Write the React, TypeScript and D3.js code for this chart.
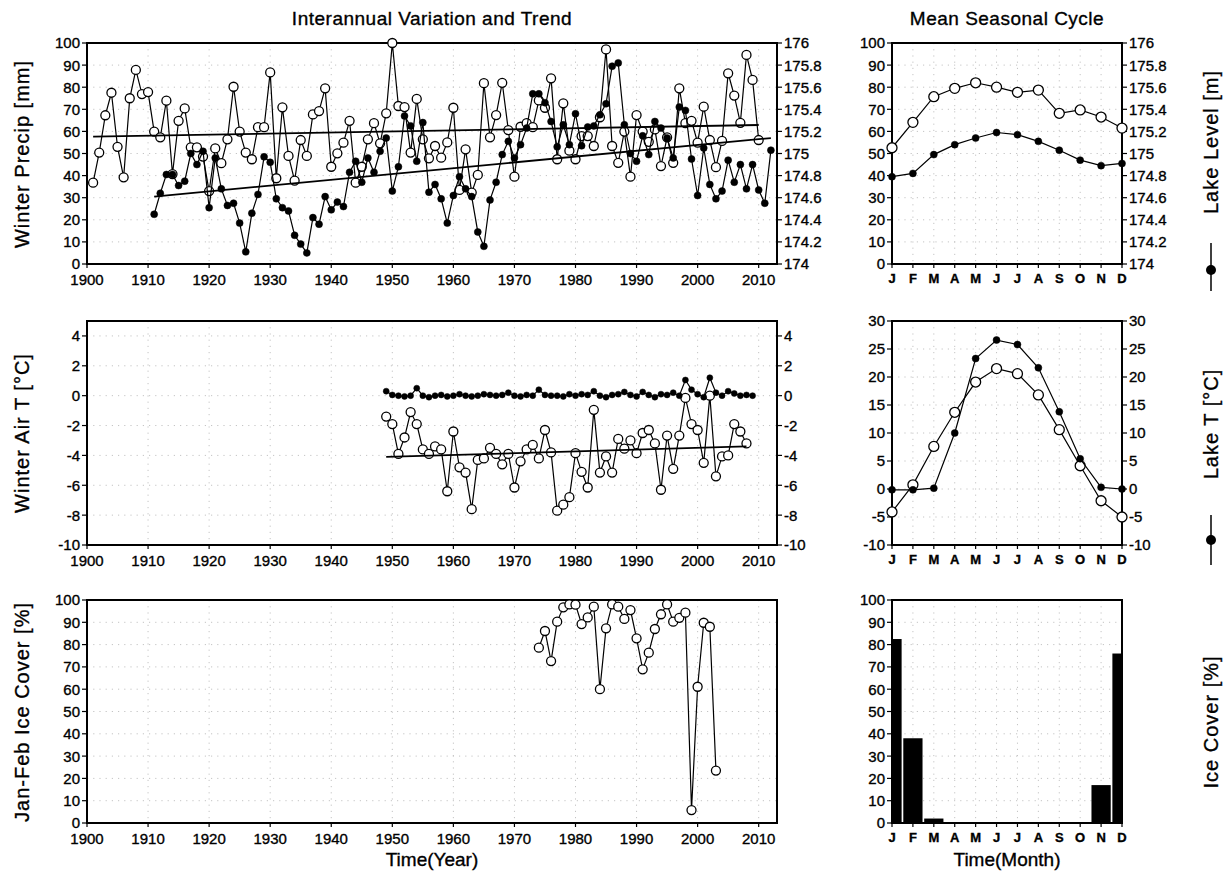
import React from 'react';
import * as d3 from 'd3';

// ---------- data ----------
const precipStart = 1901;
// winter precipitation [mm], 1901-2010
const winterPrecip = [
  36.8, 50.4, 67.3, 77.5, 53, 39.2, 75, 87.8, 76.9, 77.8,
  59.9, 57.3, 73.9, 40.7, 64.8, 70.4, 52.8, 52.8, 48.6, 33,
  52.3, 45.6, 56.4, 80.2, 59.9, 50.4, 47.4, 61.9, 61.9, 86.7,
  38.8, 70.9, 48.9, 37.7, 56.1, 48.9, 67.7, 69.2, 79.5, 44,
  50.1, 54.9, 64.8, 36.8, 44, 56.4, 63.7, 54.6, 68.2, 100,
  71.5, 71, 50.4, 74.7, 56.4, 47.8, 53.4, 48.1, 55, 70.7,
  33.5, 51.9, 32.3, 40.3, 81.8, 57.3, 67.4, 82, 60.6, 39.5,
  62.1, 63.7, 61.9, 74, 70.7, 84, 47.4, 72.7, 51.3, 47.4,
  57.9, 57.9, 53.4, 66.4, 97.1, 53.4, 45.8, 59.9, 39.5, 67.4,
  59.9, 55.3, 60.9, 44.3, 57.3, 45.8, 79.5, 63.7, 64.8, 54.9,
  71.2, 56.1, 43.8, 55.7, 86.3, 76.2, 63.9, 94.6, 83.3, 56.1,
];
const levelStart = 1911;
// winter lake level [m], 1911-2012
const lakeLevel = [
  174.45, 174.64, 174.81, 174.81, 174.71, 174.75, 175.0, 174.9, 175.02, 174.51,
  174.96, 174.68, 174.53, 174.55, 174.37, 174.11, 174.46, 174.63, 174.97, 174.92,
  174.59, 174.51, 174.48, 174.26, 174.18, 174.1, 174.42, 174.36, 174.61, 174.49,
  174.56, 174.52, 174.83, 174.93, 174.74, 174.96, 174.83, 175.02, 175.14, 174.66,
  174.88, 175.34, 175.25, 174.93, 175.28, 174.65, 174.72, 174.59, 174.37, 174.62,
  174.79, 174.68, 174.61, 174.29, 174.16, 174.58, 174.74, 174.99, 175.11, 174.96,
  175.08, 175.23, 175.54, 175.54, 175.46, 175.29, 175.06, 175.26, 175.08, 175.36,
  175.07, 175.24, 175.25, 175.35, 175.45, 175.79, 175.82, 175.26, 175.0, 174.93,
  175.16, 174.99, 175.29, 175.23, 175.14, 174.96, 175.42, 175.39, 174.95, 174.62,
  175.05, 174.72, 174.59, 174.66, 174.94, 174.74, 174.9, 174.68, 174.9, 174.67,
  174.55, 175.03,
];
const precipTrend = [[1901, 57.6], [2010, 62.9]];
const levelTrend = [[1911, 174.61], [2012, 175.14]];

const airTStart = 1949;
// winter air temperature [°C], 1949-2008
const winterAirT = [
  -1.4, -1.9, -3.9, -2.8, -1.1, -1.9, -3.6, -3.9, -3.4, -3.6,
  -6.4, -2.4, -4.8, -5.15, -7.6, -4.3, -4.2, -3.5, -3.9, -4.6,
  -3.9, -6.15, -4.4, -3.6, -3.3, -4.2, -2.3, -3.8, -7.7, -7.3,
  -6.8, -3.85, -5.1, -6.15, -0.95, -5.15, -4.07, -5.15, -2.9, -3.55,
  -3.0, -3.85, -2.5, -2.3, -3.2, -6.3, -2.67, -4.9, -2.67, -0.15,
  -1.9, -2.3, -4.5, 0, -5.4, -4.07, -4.0, -1.9, -2.4, -3.2,
];
const lakeTStart = 1949;
// winter lake temperature [°C], 1949-2009
const winterLakeT = [
  0.3, 0.05, 0, -0.05, 0, 0.5, 0, -0.1, 0, 0.05,
  -0.05, 0, 0.1, 0, -0.05, 0, 0.1, 0.05, 0, 0.05,
  0.2, 0, -0.05, 0.05, 0, 0.4, 0.05, 0, 0, -0.05,
  0.1, 0, 0.1, 0.05, 0.3, 0, -0.1, 0.05, 0.1, 0.25,
  0.05, -0.05, 0.25, 0.05, -0.1, 0.1, 0.05, 0.2, 0, 1.05,
  0.4, 0.1, -0.1, 1.2, 0.2, 0, 0.3, 0.15, 0, 0.05,
  0,
];
const airTTrend = [[1949, -4.1], [2008, -3.4]];

const iceStart = 1974;
// Jan-Feb ice cover [%], 1974-2003
const iceCover = [
  78.6, 86.1, 72.6, 90.3, 96.7, 98, 97.9, 89.2, 92.2, 97,
  60, 87.3, 98, 97, 91.5, 95.5, 82.8, 68.9, 76.4, 87,
  93.6, 98, 90.3, 92, 94.3, 5.8, 61.1, 89.8, 88, 23.5,
];

const months = ['J', 'F', 'M', 'A', 'M', 'J', 'J', 'A', 'S', 'O', 'N', 'D'];
const precipMonthly = [52.6, 64.1, 75.7, 79.5, 82, 80, 77.7, 78.7, 68.2, 69.7, 66.5, 61.5];
const levelMonthly = [174.79, 174.82, 174.99, 175.08, 175.14, 175.19, 175.17, 175.11, 175.03, 174.94, 174.89, 174.91];
const airTMonthly = [-4.1, 0.75, 7.6, 13.7, 19.1, 21.5, 20.6, 16.8, 10.6, 4.15, -2.1, -5];
const lakeTMonthly = [-0.15, -0.15, 0.15, 10, 23.3, 26.6, 25.8, 21.65, 13.8, 5.4, 0.3, 0];
const iceMonthly = [82.5, 38, 2, 0, 0, 0, 0, 0, 0, 0, 17, 76];

const yearTicks = d3.range(1900, 2011, 10);
const pctTicks = d3.range(0, 101, 10);
const levelTicks = d3.range(0, 11).map((i) => 174 + i * 0.2);
const airTicks = d3.range(-10, 5, 2);
const monTTicks = d3.range(-10, 31, 5);
const monthIdx = d3.range(0, 12);

const font = "'Liberation Sans', Arial, Helvetica, sans-serif";
// slightly heavier text, like the plotting package's stroke font
const ink = { stroke: '#000', strokeWidth: 0.35 };
type Sc = d3.ScaleLinear<number, number>;

const fmt = (v: number) => String(+v.toFixed(1));

function Frame(props: {
  x: Sc;
  y: Sc;
  xTicks: number[];
  xLabel: (v: number) => string;
  month?: boolean;
  yTicks: number[];
  yRight?: Sc;
  yRightTicks?: number[];
}) {
  const { x, y, xTicks, xLabel, month, yTicks, yRight, yRightTicks } = props;
  const [x0, x1] = x.range();
  const [yb, yt] = y.range();
  return (
    <g>
      {xTicks.map((t) => (
        <line key={'gx' + t} x1={x(t)} x2={x(t)} y1={yt} y2={yb} stroke="#c4c4c4" strokeDasharray="1.2 5" />
      ))}
      {yTicks.map((t) => (
        <line key={'gy' + t} x1={x0} x2={x1} y1={y(t)} y2={y(t)} stroke="#c4c4c4" strokeDasharray="1.2 5" />
      ))}
      <rect x={x0} y={yt} width={x1 - x0} height={yb - yt} fill="none" stroke="#000" strokeWidth={2} />
      {yTicks.map((t) => (
        <g key={'yl' + t}>
          <line x1={x0 - 5} x2={x0} y1={y(t)} y2={y(t)} stroke="#000" strokeWidth={1.2} />
          <text x={x0 - 7} y={y(t)} dy="0.36em" textAnchor="end" fontSize={15} fontFamily={font} {...ink}>
            {fmt(t)}
          </text>
        </g>
      ))}
      {yRight && yRightTicks
        ? yRightTicks.map((t) => (
            <g key={'yr' + t}>
              <line x1={x1} x2={x1 + 5} y1={yRight(t)} y2={yRight(t)} stroke="#000" strokeWidth={1.2} />
              <text x={x1 + 7} y={yRight(t)} dy="0.36em" textAnchor="start" fontSize={15} fontFamily={font} {...ink}>
                {fmt(t)}
              </text>
            </g>
          ))
        : null}
      {xTicks.map((t) => (
        <g key={'xl' + t}>
          <line x1={x(t)} x2={x(t)} y1={yb} y2={yb + 4} stroke="#000" strokeWidth={1.2} />
          <text
            x={x(t)}
            y={yb + (month ? 19 : 21)}
            textAnchor="middle"
            fontSize={month ? 13 : 15}
            fontWeight={month ? 'bold' : 'normal'}
            fontFamily={font}
            {...ink}
          >
            {xLabel(t)}
          </text>
        </g>
      ))}
    </g>
  );
}

function Series(props: { pts: number[][]; x: Sc; y: Sc; open: boolean; r?: number }) {
  const { pts, x, y, open } = props;
  const r = props.r ?? (open ? 4.5 : 3.5);
  const path = d3
    .line<number[]>()
    .x((d) => x(d[0]))
    .y((d) => y(d[1]))(pts);
  return (
    <g>
      <path d={path || ''} fill="none" stroke="#000" strokeWidth={1.2} />
      {pts.map((d, i) => (
        <circle
          key={i}
          cx={x(d[0])}
          cy={y(d[1])}
          r={r}
          fill={open ? '#fff' : '#000'}
          stroke="#000"
          strokeWidth={open ? 1.3 : 0.5}
        />
      ))}
    </g>
  );
}

function Trend(props: { pts: number[][]; x: Sc; y: Sc }) {
  const { pts, x, y } = props;
  return (
    <line
      x1={x(pts[0][0])}
      y1={y(pts[0][1])}
      x2={x(pts[1][0])}
      y2={y(pts[1][1])}
      stroke="#000"
      strokeWidth={1.8}
    />
  );
}

function SideLabel(props: { x: number; y: number; text: string; symbol?: [number, number, number] }) {
  const { x, y, text, symbol } = props;
  return (
    <g>
      <text
        transform={`translate(${x},${y}) rotate(-90)`}
        textAnchor="middle"
        dy="0.36em"
        fontSize={20}
        letterSpacing={1}
        fontFamily={font}
        {...ink}
      >
        {text}
      </text>
      {symbol ? (
        <g>
          <line x1={x} x2={x} y1={symbol[0]} y2={symbol[1]} stroke="#000" strokeWidth={1.5} />
          <circle cx={x} cy={symbol[2]} r={5} fill="#000" />
        </g>
      ) : null}
    </g>
  );
}

const toPts = (start: number, vals: number[]) => vals.map((v, i) => [start + i, v]);

export default function App() {
  const xYear = d3.scaleLinear().domain([1900, 2013]).range([87, 777]);
  const xMon = d3.scaleLinear().domain([0, 11]).range([892, 1122]);
  const yPrecip = d3.scaleLinear().domain([0, 100]).range([264, 43]);
  const yLevel = d3.scaleLinear().domain([174, 176]).range([264, 43]);
  const yAirT = d3.scaleLinear().domain([-10, 5]).range([545, 321]);
  const yIce = d3.scaleLinear().domain([0, 100]).range([823, 600]);
  const yMonT = d3.scaleLinear().domain([-10, 30]).range([545, 321]);
  const yMonPrecip = d3.scaleLinear().domain([0, 100]).range([264, 43]);
  const yMonLevel = d3.scaleLinear().domain([174, 176]).range([264, 43]);
  const yMonIce = d3.scaleLinear().domain([0, 100]).range([823, 600]);

  const yearLabel = (v: number) => String(v);
  const monLabel = (v: number) => months[v];
  const barW = (xMon(1) - xMon(0)) * 0.92;

  return (
    <div style={{ position: 'absolute', left: 0, top: 0 }}>
      <svg width={1224} height={877} style={{ display: 'block', background: '#fff' }}>
        <defs>
          <clipPath id="iceClip">
            <rect x={892} y={600} width={230} height={223} />
          </clipPath>
        </defs>

        <text x={432} y={25} textAnchor="middle" fontSize={19} letterSpacing={0.5} fontFamily={font} {...ink}>
          Interannual Variation and Trend
        </text>
        <text x={1007} y={25} textAnchor="middle" fontSize={19} letterSpacing={0.5} fontFamily={font} {...ink}>
          Mean Seasonal Cycle
        </text>

        {/* row 1: precip & lake level */}
        <Frame x={xYear} y={yPrecip} xTicks={yearTicks} xLabel={yearLabel} yTicks={pctTicks} yRight={yLevel} yRightTicks={levelTicks} />
        <Series pts={toPts(precipStart, winterPrecip)} x={xYear} y={yPrecip} open />
        <Series pts={toPts(levelStart, lakeLevel)} x={xYear} y={yLevel} open={false} />
        <Trend pts={precipTrend} x={xYear} y={yPrecip} />
        <Trend pts={levelTrend} x={xYear} y={yLevel} />

        <Frame x={xMon} y={yMonPrecip} xTicks={monthIdx} xLabel={monLabel} month yTicks={pctTicks} yRight={yMonLevel} yRightTicks={levelTicks} />
        <Series pts={monthIdx.map((i) => [i, precipMonthly[i]])} x={xMon} y={yMonPrecip} open r={5} />
        <Series pts={monthIdx.map((i) => [i, levelMonthly[i]])} x={xMon} y={yMonLevel} open={false} />

        {/* row 2: air T & lake T */}
        <Frame x={xYear} y={yAirT} xTicks={yearTicks} xLabel={yearLabel} yTicks={airTicks} yRight={yAirT} yRightTicks={airTicks} />
        <Series pts={toPts(airTStart, winterAirT)} x={xYear} y={yAirT} open />
        <Trend pts={airTTrend} x={xYear} y={yAirT} />
        <Series pts={toPts(lakeTStart, winterLakeT)} x={xYear} y={yAirT} open={false} r={3} />

        <Frame x={xMon} y={yMonT} xTicks={monthIdx} xLabel={monLabel} month yTicks={monTTicks} yRight={yMonT} yRightTicks={monTTicks} />
        <Series pts={monthIdx.map((i) => [i, airTMonthly[i]])} x={xMon} y={yMonT} open r={5} />
        <Series pts={monthIdx.map((i) => [i, lakeTMonthly[i]])} x={xMon} y={yMonT} open={false} />

        {/* row 3: ice cover */}
        <Frame x={xYear} y={yIce} xTicks={yearTicks} xLabel={yearLabel} yTicks={pctTicks} />
        <Series pts={toPts(iceStart, iceCover)} x={xYear} y={yIce} open />

        <Frame x={xMon} y={yMonIce} xTicks={monthIdx} xLabel={monLabel} month yTicks={pctTicks} />
        <g clipPath="url(#iceClip)">
          {monthIdx.map((i) =>
            iceMonthly[i] > 0 ? (
              <rect
                key={i}
                x={xMon(i) - barW / 2}
                y={yMonIce(iceMonthly[i])}
                width={barW}
                height={yMonIce(0) - yMonIce(iceMonthly[i])}
                fill="#000"
              />
            ) : null
          )}
        </g>

        <text x={432} y={866} textAnchor="middle" fontSize={19} fontFamily={font} {...ink}>
          Time(Year)
        </text>
        <text x={1007} y={866} textAnchor="middle" fontSize={19} fontFamily={font} {...ink}>
          Time(Month)
        </text>

        <SideLabel x={22} y={154} text="Winter Precip [mm]" />
        <SideLabel x={22} y={433} text="Winter Air T [°C]" />
        <SideLabel x={22} y={712} text="Jan-Feb Ice Cover [%]" />
        <SideLabel x={1211} y={142} text="Lake Level [m]" symbol={[243, 291, 270]} />
        <SideLabel x={1211} y={424} text="Lake T [°C]" symbol={[515, 565, 540]} />
        <SideLabel x={1211} y={722} text="Ice Cover [%]" />
      </svg>
    </div>
  );
}
